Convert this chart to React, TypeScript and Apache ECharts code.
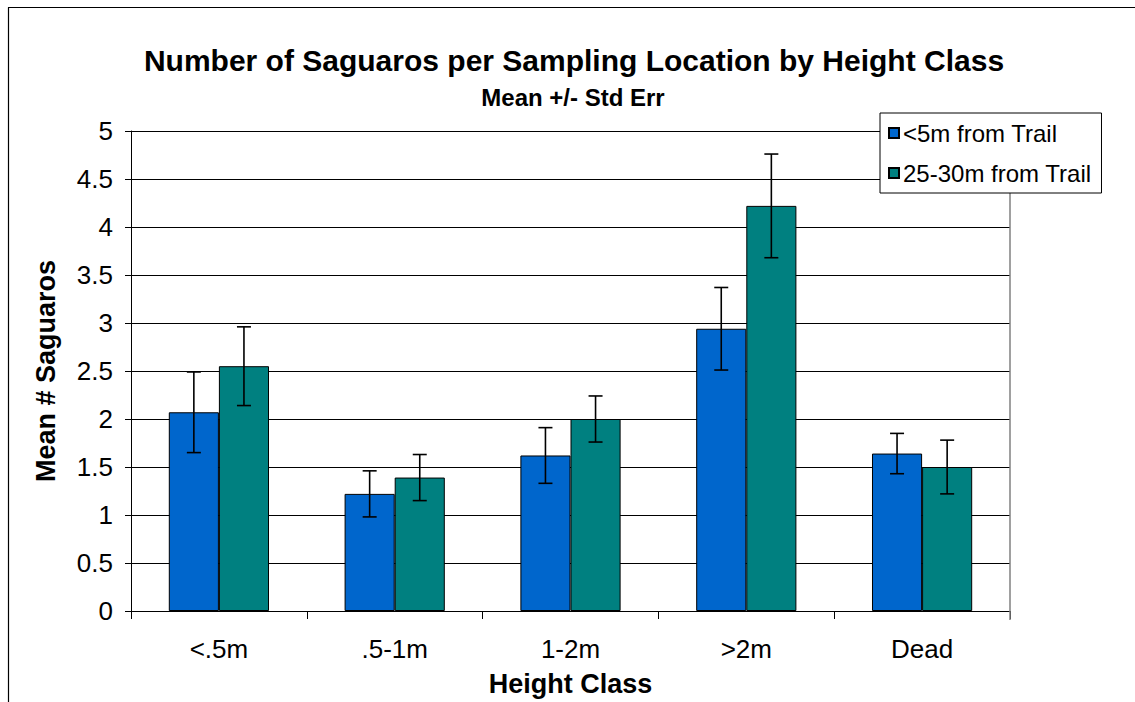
import React, { useEffect, useRef } from "react";
import * as echarts from "echarts";

const categories = ["<.5m", ".5-1m", "1-2m", ">2m", "Dead"];
const nearTrail = [2.07, 1.22, 1.62, 2.94, 1.64];
const farTrail = [2.55, 1.39, 2.0, 4.22, 1.5];
const nearErr = [0.42, 0.24, 0.29, 0.43, 0.21];
const farErr = [0.41, 0.24, 0.24, 0.54, 0.28];
const seriesNames = ["<5m from Trail", "25-30m from Trail"];

const FONT = "Liberation Sans, Arial, sans-serif";
const CAT_GAP = 0.43;

function errorRenderer(side: number) {
  return (params: any, api: any) => {
    const idx = api.value(0);
    const v = api.value(1);
    const e = api.value(2);
    const c = api.coord([idx, v]);
    const band = api.size([1, 0])[0];
    const bw = (band * (1 - CAT_GAP)) / 2;
    const x = c[0] + (side * bw) / 2;
    const top = api.coord([idx, v + e])[1];
    const bot = api.coord([idx, v - e])[1];
    const cap = 7;
    const style = { stroke: "#000", lineWidth: 1.6 };
    return {
      type: "group",
      children: [
        { type: "line", shape: { x1: x, y1: top, x2: x, y2: bot }, style },
        { type: "line", shape: { x1: x - cap, y1: top, x2: x + cap, y2: top }, style },
        { type: "line", shape: { x1: x - cap, y1: bot, x2: x + cap, y2: bot }, style },
      ],
    };
  };
}

export default function App() {
  const ref = useRef<HTMLDivElement>(null);
  useEffect(() => {
    if (!ref.current) return;
    const chart = echarts.init(ref.current, undefined, { renderer: "svg" });
    chart.setOption({
      animation: false,
      backgroundColor: "#fff",
      title: [
        {
          text: "Number of Saguaros per Sampling Location by Height Class",
          left: 569,
          top: 40,
          textAlign: "center",
          textStyle: { fontFamily: FONT, fontSize: 30, fontWeight: "bold", color: "#000" },
        },
        {
          text: "Mean +/- Std Err",
          left: 568,
          top: 80,
          textAlign: "center",
          textStyle: { fontFamily: FONT, fontSize: 24, fontWeight: "bold", color: "#000" },
        },
      ],
      legend: {
        data: seriesNames,
        orient: "vertical",
        left: 880,
        top: 113,
        width: 222,
        padding: [8, 10, 8, 8],
        itemWidth: 10,
        itemHeight: 10,
        itemGap: 16,
        selectedMode: false,
        borderColor: "#000",
        borderWidth: 1,
        backgroundColor: "#fff",
        icon: "rect",
        textStyle: { fontFamily: FONT, fontSize: 24, color: "#000", padding: [0, 0, 0, -1] },
      },
      grid: { left: 131, top: 131, right: 125, bottom: 90 },
      xAxis: {
        type: "category",
        data: categories,
        name: "Height Class",
        nameLocation: "middle",
        nameGap: 59,
        nameTextStyle: { fontFamily: FONT, fontSize: 27, fontWeight: "bold", color: "#000" },
        axisLine: { lineStyle: { color: "#000", width: 1 } },
        axisTick: { show: true, length: 8, lineStyle: { color: "#000" } },
        axisLabel: { fontFamily: FONT, fontSize: 26, color: "#000", margin: 25 },
      },
      yAxis: {
        type: "value",
        min: 0,
        max: 5,
        interval: 0.5,
        name: "Mean # Saguaros",
        nameLocation: "middle",
        nameGap: 72,
        nameTextStyle: { fontFamily: FONT, fontSize: 27, fontWeight: "bold", color: "#000" },
        axisLine: { show: true, lineStyle: { color: "#000", width: 1 } },
        axisTick: { show: true, length: 6, lineStyle: { color: "#000" } },
        axisLabel: { fontFamily: FONT, fontSize: 26, color: "#000", margin: 18 },
        splitLine: { show: true, lineStyle: { color: "#000", width: 1 } },
      },
      graphic: [
        { type: "line", shape: { x1: 8, y1: 7.5, x2: 1135, y2: 7.5 }, style: { stroke: "#000", lineWidth: 1.2 }, z: 100 },
        { type: "line", shape: { x1: 8.5, y1: 7.5, x2: 8.5, y2: 702 }, style: { stroke: "#000", lineWidth: 1.2 }, z: 100 },
        { type: "line", shape: { x1: 1010, y1: 131, x2: 1010, y2: 620 }, style: { stroke: "#808080", lineWidth: 1.5 }, z: 1 },
      ],
      series: [
        {
          name: seriesNames[0],
          type: "bar",
          data: nearTrail,
          barGap: "0%",
          barCategoryGap: "43%",
          itemStyle: { color: "#0066CC", borderColor: "#000", borderWidth: 1 },
        },
        {
          name: seriesNames[1],
          type: "bar",
          data: farTrail,
          barGap: "0%",
          barCategoryGap: "43%",
          itemStyle: { color: "#008080", borderColor: "#000", borderWidth: 1 },
        },
        {
          name: "err-near",
          type: "custom",
          z: 10,
          renderItem: errorRenderer(-1),
          encode: { x: 0, y: 1 },
          data: categories.map((_, i) => [i, nearTrail[i], nearErr[i]]),
        },
        {
          name: "err-far",
          type: "custom",
          z: 10,
          renderItem: errorRenderer(1),
          encode: { x: 0, y: 1 },
          data: categories.map((_, i) => [i, farTrail[i], farErr[i]]),
        },
      ],
    });
    return () => chart.dispose();
  }, []);
  return (
    <div
      ref={ref}
      style={{ position: "fixed", left: 0, top: 0, width: 1135, height: 702, background: "#fff" }}
    />
  );
}
